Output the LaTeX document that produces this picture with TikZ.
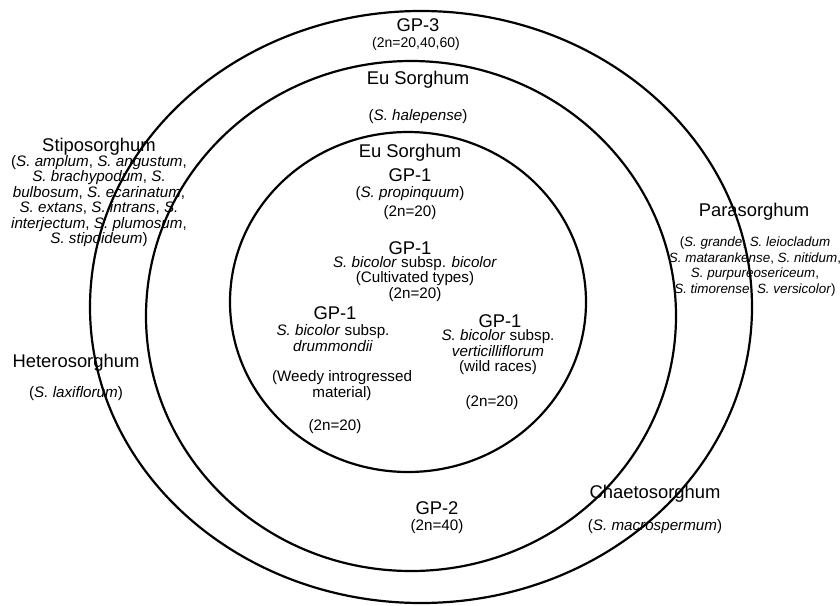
\documentclass[tikz,border=0pt]{standalone}
\usepackage{fontspec}
\setmainfont{Liberation Sans}
\begin{document}
\begin{tikzpicture}[x=0.5pt,y=-0.5pt,
  ring/.style={line width=1.1pt},
  head/.style={font=\fontsize{9.2}{11}\selectfont,inner sep=0pt},
  spp/.style={font=\fontsize{7.6}{7.75}\selectfont,align=center,inner sep=0pt}]
\useasboundingbox (0,0) rectangle (840,605);

\draw[ring] (421,307) ellipse [x radius=331, y radius=296];
\draw[ring] (411,316) ellipse [x radius=265, y radius=255];
\draw[ring] (408,302) ellipse [x radius=178, y radius=170];

\node[head] (gp3) at (418,25) {GP-3};
\node[spp,font=\fontsize{7}{8}\selectfont] (gp3n) at (416,44) {(2n=20,40,60)};

\node[head] (euout) at (418,80) {Eu Sorghum};
\node[spp] (euoutspp) at (418,117) {(\textit{S. halepense})};

\node[head] (euin) at (410,153) {Eu Sorghum};
\node[head] (gp1top) at (410,175) {GP-1};
\node[spp] (gp1topspp) at (410,194) {(\textit{S. propinquum})};
\node[spp] (gp1topn) at (410,213) {(2n=20)};

\node[head] (gp1mid) at (410,248) {GP-1};
\node[spp] (gp1midspp) at (415,279) {\textit{S. bicolor} subsp. \textit{bicolor}\\(Cultivated types)\\(2n=20)};

\node[head] (gp1left) at (335,313) {GP-1};
\node[spp] (gp1leftspp) at (333,338) {\textit{S. bicolor} subsp.\\\textit{drummondii}};
\node[spp] (gp1leftnote) at (342,385.5) {(Weedy introgressed\\material)};
\node[spp] (gp1leftn) at (335,427) {(2n=20)};

\node[head] (gp1right) at (500,321) {GP-1};
\node[spp] (gp1rightspp) at (498,352.5) {\textit{S. bicolor} subsp.\\\textit{verticilliflorum}\\(wild races)};
\node[spp] (gp1rightn) at (492,403) {(2n=20)};

\node[head] (stipo) at (99,147) {Stiposorghum};
\node[spp] (stipospp) at (99,201) {(\textit{S. amplum}, \textit{S. angustum},\\\textit{S. brachypodum}, \textit{S.}\\\textit{bulbosum}, \textit{S. ecarinatum},\\\textit{S. extans}, \textit{S. intrans}, \textit{S.}\\\textit{interjectum}, \textit{S. plumosum},\\\textit{S. stipoideum})};

\node[head] (para) at (754,212) {Parasorghum};
\node[spp,font=\fontsize{6.7}{7.85}\selectfont] (paraspp) at (755,266.5) {(\textit{S. grande}, \textit{S. leiocladum}\\\textit{S. matarankense}, \textit{S. nitidum},\\\textit{S. purpureosericeum},\\\textit{S. timorense}, \textit{S. versicolor})};

\node[head] (hetero) at (76,363) {Heterosorghum};
\node[spp] (heterospp) at (76,394) {(\textit{S. laxiflorum})};

\node[head] (gp2) at (437,508) {GP-2};
\node[spp] (gp2n) at (437,527) {(2n=40)};

\node[head] (chaeto) at (655,494) {Chaetosorghum};
\node[spp] (chaetospp) at (655,527) {(\textit{S. macrospermum})};
\end{tikzpicture}
\end{document}
